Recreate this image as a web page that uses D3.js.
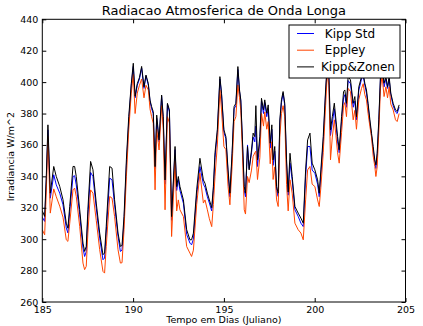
<!DOCTYPE html>
<html>
<head>
<meta charset="utf-8">
<script src="https://cdn.jsdelivr.net/npm/d3@7"></script>
<style>
  body { margin: 0; background: #fff; }
  text { font-family: 'DejaVu Sans', sans-serif; }
</style>
</head>
<body>
<div id="chart"></div>
<script>
// julian day of each sample
const days = [
  185.0, 185.13, 185.22, 185.31, 185.44, 185.63, 185.77, 185.96, 186.14, 186.32,
  186.41, 186.51, 186.69, 186.78, 186.87, 187.06, 187.24, 187.33, 187.42, 187.51,
  187.66, 187.79, 187.97, 188.16, 188.34, 188.43, 188.52, 188.71, 188.84, 188.98,
  189.17, 189.30, 189.39, 189.50, 189.63, 189.76, 189.9, 190.01, 190.11, 190.23,
  190.35, 190.47, 190.6, 190.71, 190.84, 190.93, 191.02, 191.11, 191.21, 191.3,
  191.43, 191.57, 191.66, 191.76, 191.89, 192.0, 192.12, 192.31, 192.4, 192.49,
  192.58, 192.77, 192.95, 193.13, 193.22, 193.32, 193.5, 193.68, 193.87, 193.96,
  194.09, 194.2, 194.33, 194.42, 194.51, 194.64, 194.78, 194.87, 195.0, 195.11,
  195.23, 195.33, 195.45, 195.56, 195.66, 195.77, 195.86, 195.93, 196.02, 196.12,
  196.19, 196.3, 196.39, 196.52, 196.61, 196.7, 196.76, 196.85, 196.98, 197.07,
  197.18, 197.25, 197.36, 197.44, 197.55, 197.64, 197.71, 197.8, 197.9, 197.99,
  198.08, 198.17, 198.26, 198.35, 198.45, 198.54, 198.64, 198.76, 198.91, 199.09,
  199.24, 199.37, 199.5, 199.61, 199.74, 199.86, 200.01, 200.16, 200.25, 200.34,
  200.47, 200.6, 200.69, 200.78, 200.87, 200.97, 201.08, 201.17, 201.26, 201.35,
  201.48, 201.59, 201.66, 201.75, 201.84, 201.97, 202.12, 202.21, 202.3, 202.43,
  202.58, 202.67, 202.76, 202.85, 202.94, 203.04, 203.13, 203.22, 203.31, 203.37,
  203.44, 203.53, 203.62, 203.71, 203.82, 203.92, 204.01, 204.1, 204.19, 204.32,
  204.45, 204.54, 204.65
];

const kippStd = [
  314, 311.3, 337, 369.6, 326.1, 341, 334.6, 329.3, 321.9, 307.1,
  304, 317.7, 339.9, 340.4, 334.6, 315.5, 294.3, 289.0, 292, 314.5,
  342.5, 339.9, 319.8, 300.7, 286.9, 288, 303.9, 338.9, 337.8, 321.9,
  301.8, 292.2, 293, 311.3, 347, 375, 398, 410, 390, 398,
  402, 409, 396, 404, 398, 388, 383, 380, 345, 377,
  362, 391, 377, 335, 386, 381, 312, 357, 331, 338,
  331, 322.9, 303, 297.5, 296.4, 300, 328, 346.2, 335, 333,
  327, 323, 318, 331, 352, 368, 402, 392, 368, 364,
  342, 327, 353, 383, 385, 408, 394, 388, 362, 331,
  327, 360, 345, 355, 365, 362, 372, 346.3, 362, 388,
  380, 387, 378, 383, 358, 370, 347, 356, 331, 327.2,
  374, 387, 393, 385, 348, 328, 348.4, 337.8, 318.7, 314.5,
  310.2, 308, 340, 359, 359, 344, 342, 335, 327, 341,
  362, 393, 410, 403, 366, 374, 383, 373, 362, 355,
  375, 390, 392, 384, 401, 399, 384, 388, 376, 395,
  402, 404, 398, 393, 385, 374, 366, 357, 349, 345,
  353, 374, 402, 409, 397, 402, 396, 402, 392, 385,
  381, 380, 384
];

const eppley = [
  306, 302.8, 330, 365.4, 316.6, 332, 327, 321, 314, 299.6,
  298.6, 310.2, 331.4, 332.5, 327.2, 308.1, 284.8, 280.6, 282.7, 303.9,
  331.4, 329.3, 312, 293.3, 279.5, 278.4, 295.4, 327.2, 326.1, 314.5,
  293.3, 284.8, 285, 306, 339.9, 369.6, 393, 405, 380, 393,
  398, 402, 390, 398, 395, 383, 378, 373.8, 331.4, 370,
  356.8, 385, 370, 318.7, 378, 374, 301.7, 350, 318, 325,
  318.7, 314.4, 295.3, 291.1, 289, 293, 322, 342, 323, 325,
  318.7, 313, 308, 322, 340, 360, 395, 382.3, 359, 357,
  333.5, 321.9, 346, 375, 378, 398.2, 390, 382, 355, 318.7,
  316, 339.9, 336, 344, 352.6, 355, 356, 338, 352, 380,
  372, 381, 370, 374.9, 348, 362, 338, 346, 325, 320.8,
  365, 380, 385, 378, 335, 318, 337.8, 329.3, 310.2, 306,
  303.9, 299.6, 325, 344.1, 346.3, 335, 333.5, 325, 320.8, 333,
  355, 385, 405, 398, 350.5, 365, 376, 366, 355, 348.4,
  368, 385, 387, 378, 396, 394, 376, 382, 370, 389,
  396, 399, 392, 388.7, 380, 371.7, 365, 353, 346.3, 339.9,
  346, 368, 396, 404, 390.8, 397, 390, 397, 386, 382.3,
  376, 374.9, 380
];

const kippZonen = [
  318, 314.5, 340, 372.8, 329.3, 346.3, 339.9, 333.6, 325.1, 310.2,
  307, 320.8, 346.3, 346.3, 339.9, 318.7, 297.5, 292.2, 295.4, 318.7,
  349.5, 344.2, 323, 303.9, 290.1, 291.2, 308.1, 346.3, 345.2, 325.1,
  303.9, 295.4, 296, 314.5, 350.5, 378, 399, 412, 391, 399,
  403, 410, 397, 404.5, 399, 388.6, 384.4, 381.2, 346.2, 379,
  363.2, 391.8, 378, 337.7, 386.5, 382.3, 314.4, 359, 333.5, 339.9,
  333.5, 325, 306, 299.6, 299.6, 303.8, 331.4, 351.5, 337.7, 335.6,
  329.3, 325, 320, 333.5, 355, 370, 403.5, 392.9, 369.6, 365.3,
  344.1, 329.3, 354.7, 384.4, 386.5, 409.9, 395, 388.7, 363.2, 333.5,
  329.3, 359, 344.1, 356.8, 367.5, 365.3, 385, 350.5, 365.3, 389.7,
  382.3, 388.7, 380.2, 385.5, 361.1, 372.8, 350.5, 359, 333.5, 329.3,
  375.9, 388.7, 394, 386.5, 350.5, 330, 354.7, 339.9, 320.8, 316.6,
  313.4, 310.2, 344.1, 363.2, 367.5, 348.4, 344.1, 337.8, 329.3, 344.1,
  365.3, 395, 412, 405.6, 369.6, 378, 386.6, 375.9, 365.3, 356.9,
  378, 394, 395, 386.5, 403.5, 401.4, 386.5, 390.8, 378, 397,
  403.5, 405.6, 399.3, 395, 386.5, 376, 367.4, 359, 350.5, 347.3,
  354.7, 376, 403.5, 410, 399.3, 403.5, 397, 403.5, 393, 386.5,
  382.3, 381.3, 385.5
];

const seriesNames = [' Kipp Std', ' Eppley', 'Kipp&Zonen'];
const seriesColors = ['#0000ff', '#ff4500', '#000000'];
const xTicks = [185, 190, 195, 200, 205];
const yTicks = [260, 280, 300, 320, 340, 360, 380, 400, 420, 440];

const width = 423;
const height = 326;
const plotLeft = 42.3;
const plotRight = 405.5;
const plotTop = 19.3;
const plotBottom = 302;

const series = [kippStd, eppley, kippZonen].map((vals, i) => ({
  name: seriesNames[i],
  color: seriesColors[i],
  values: vals.map((v, j) => ({ day: days[j], value: v }))
}));

const xScale = d3.scaleLinear().domain([185, 205]).range([plotLeft, plotRight]);
const yScale = d3.scaleLinear().domain([260, 440]).range([plotBottom, plotTop]);

const svg = d3.select('#chart').append('svg')
  .attr('width', width)
  .attr('height', height)
  .style('display', 'block');

svg.append('rect')
  .attr('width', width).attr('height', height)
  .attr('fill', '#fff');

svg.append('clipPath').attr('id', 'plotclip')
  .append('rect')
  .attr('x', plotLeft).attr('y', plotTop)
  .attr('width', plotRight - plotLeft).attr('height', plotBottom - plotTop);

/* lines */
const line = d3.line()
  .x(d => xScale(d.day))
  .y(d => yScale(d.value));

svg.append('g')
  .attr('clip-path', 'url(#plotclip)')
  .selectAll('path')
  .data(series).enter()
  .append('path')
  .attr('d', d => line(d.values))
  .attr('fill', 'none')
  .attr('stroke', d => d.color)
  .attr('stroke-width', 1)
  .attr('stroke-linejoin', 'round');

/* axes, ticks pointing inwards on all four sides */
const tickLen = 4;
const fontSize = '9.5px';

svg.append('g')
  .attr('transform', `translate(0,${plotBottom})`)
  .call(d3.axisBottom(xScale).tickValues(xTicks).tickSizeInner(-tickLen).tickSizeOuter(0).tickPadding(4))
  .call(g => g.select('.domain').remove())
  .call(g => g.selectAll('text').style('font-size', fontSize).attr('fill', '#000'));

svg.append('g')
  .attr('transform', `translate(0,${plotTop})`)
  .call(d3.axisTop(xScale).tickValues(xTicks).tickSizeInner(-tickLen).tickSizeOuter(0).tickFormat(''))
  .call(g => g.select('.domain').remove());

svg.append('g')
  .attr('transform', `translate(${plotLeft},0)`)
  .call(d3.axisLeft(yScale).tickValues(yTicks).tickSizeInner(-tickLen).tickSizeOuter(0).tickPadding(4))
  .call(g => g.select('.domain').remove())
  .call(g => g.selectAll('text').style('font-size', fontSize).attr('fill', '#000'));

svg.append('g')
  .attr('transform', `translate(${plotRight},0)`)
  .call(d3.axisRight(yScale).tickValues(yTicks).tickSizeInner(-tickLen).tickSizeOuter(0).tickFormat(''))
  .call(g => g.select('.domain').remove());

svg.selectAll('.tick line').attr('stroke', '#000');

svg.append('rect')
  .attr('x', plotLeft).attr('y', plotTop)
  .attr('width', plotRight - plotLeft).attr('height', plotBottom - plotTop)
  .attr('fill', 'none')
  .attr('stroke', '#000')
  .attr('stroke-width', 1);

/* titles */
svg.append('text')
  .attr('x', (plotLeft + plotRight) / 2).attr('y', 15)
  .attr('text-anchor', 'middle')
  .style('font-size', '13px')
  .text('Radiacao Atmosferica de Onda Longa');

svg.append('text')
  .attr('x', (plotLeft + plotRight) / 2).attr('y', 323)
  .attr('text-anchor', 'middle')
  .style('font-size', fontSize)
  .text('Tempo em Dias (Juliano)');

svg.append('text')
  .attr('transform', `translate(14,${(plotTop + plotBottom) / 2 - 4}) rotate(-90)`)
  .attr('text-anchor', 'middle')
  .style('font-size', fontSize)
  .text('Irradiancia W/m^2');

/* legend */
const legend = svg.append('g').attr('transform', 'translate(289,25)');

legend.append('rect')
  .attr('width', 111).attr('height', 53)
  .attr('fill', '#fff')
  .attr('stroke', '#000')
  .attr('stroke-width', 1);

legend.selectAll('line')
  .data(series).enter()
  .append('line')
  .attr('x1', 8).attr('x2', 25)
  .attr('y1', (d, i) => 8.5 + i * 16.7)
  .attr('y2', (d, i) => 8.5 + i * 16.7)
  .attr('stroke', d => d.color)
  .attr('stroke-width', 1);

legend.selectAll('text')
  .data(series).enter()
  .append('text')
  .attr('x', 32)
  .attr('y', (d, i) => 8.5 + i * 16.7)
  .attr('dy', '0.35em')
  .attr('xml:space', 'preserve')
  .style('white-space', 'pre')
  .style('font-size', '12px')
  .text(d => d.name);
</script>
</body>
</html>
